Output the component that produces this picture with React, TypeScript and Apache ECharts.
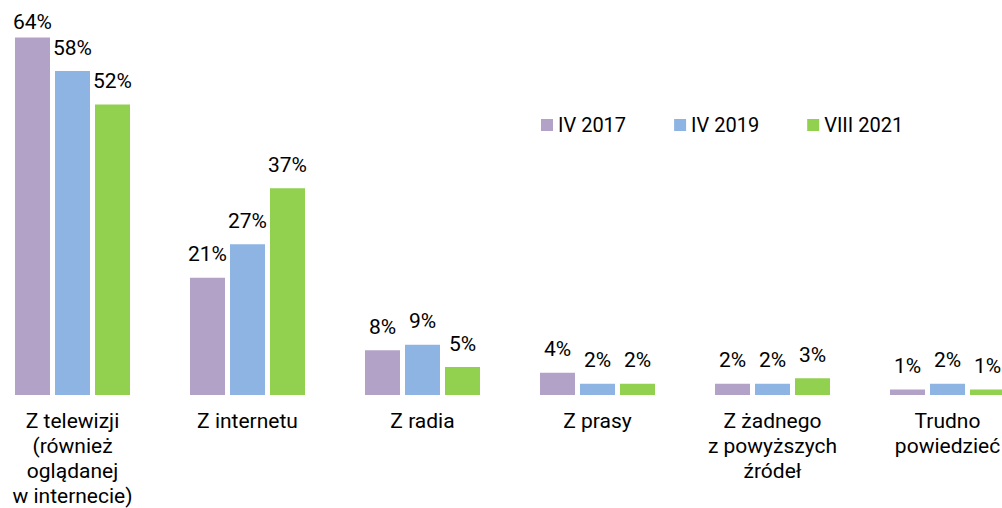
import React, { useEffect, useRef } from "react";
import * as echarts from "echarts";

const categories = [
  "Z telewizji\n(również\noglądanej\nw internecie)",
  "Z internetu",
  "Z radia",
  "Z prasy",
  "Z żadnego\nz powyższych\nźródeł",
  "Trudno\npowiedzieć",
];
const seriesNames = ["IV 2017", "IV 2019", "VIII 2021"];
const values2017 = [64, 21, 8, 4, 2, 1];
const values2019 = [58, 27, 9, 2, 2, 2];
const values2021 = [52, 37, 5, 2, 3, 1];
const colors = ["#B3A2C7", "#8EB4E3", "#92D050"];

const FONT = "Roboto";
const SHIFT = 15;

export default function App() {
  const ref = useRef<HTMLDivElement>(null);
  useEffect(() => {
    if (!ref.current) return;
    const chart = echarts.init(ref.current, undefined, { renderer: "svg" });
    const all = [values2017, values2019, values2021];
    chart.setOption({
      animation: false,
      textStyle: { fontFamily: FONT },
      legend: {
        data: seriesNames,
        left: 536 + SHIFT,
        top: 110,
        icon: "rect",
        itemWidth: 12,
        itemHeight: 12,
        itemGap: 48,
        textStyle: { fontFamily: FONT, fontSize: 20, color: "#000" },
      },
      grid: {
        left: 0,
        right: 0,
        top: 4,
        bottom: 113,
        containLabel: false,
        outerBoundsMode: "none",
      },
      xAxis: {
        type: "category",
        data: categories,
        axisLine: { show: false },
        axisTick: { show: false },
        axisLabel: {
          interval: 0,
          margin: 13,
          fontFamily: FONT,
          fontSize: 21,
          lineHeight: 25,
          color: "#000",
        },
      },
      yAxis: {
        type: "value",
        min: 0,
        max: 70,
        show: false,
        splitLine: { show: false },
      },
      series: all.map((vals, i) => ({
        name: seriesNames[i],
        type: "bar",
        barWidth: 35,
        barGap: "14.3%",
        itemStyle: { color: colors[i] },
        label: {
          show: true,
          position: "top",
          distance: 13,
          formatter: "{c}%",
          fontFamily: FONT,
          fontSize: 21,
          color: "#000",
        },
        data: vals.map((v, j) =>
          i === 0 && j === 0 ? { value: v, label: { distance: 5 } } : v
        ),
      })),
    });
    return () => chart.dispose();
  }, []);
  return (
    <div
      ref={ref}
      style={{ position: "fixed", left: -SHIFT, top: 0, width: 1050, height: 508, background: "#fff" }}
    />
  );
}
